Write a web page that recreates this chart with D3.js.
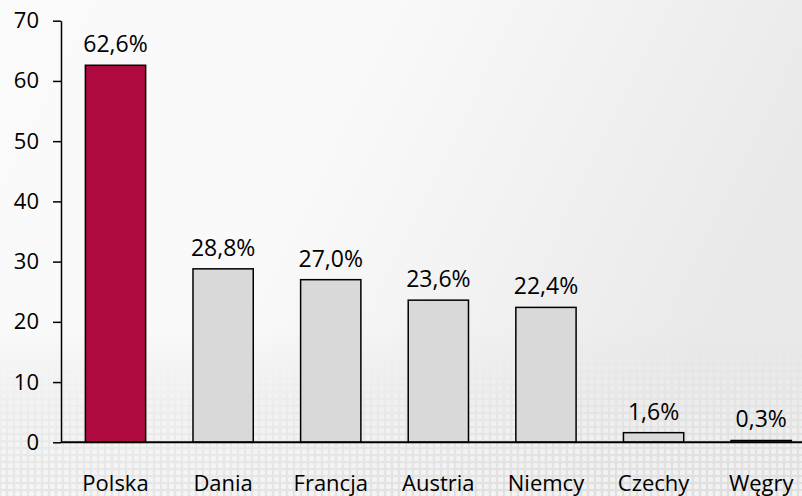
<!DOCTYPE html>
<html><head><meta charset="utf-8">
<script src="https://cdn.jsdelivr.net/npm/d3@7"></script>
<style>
html,body{margin:0;padding:0;background:#fff;}
svg{display:block;}
text{font-family:"Open Sans",sans-serif;fill:#000;}
</style></head>
<body>
<svg id="chart" width="802" height="496"></svg>
<script>
const categories = ["Polska","Dania","Francja","Austria","Niemcy","Czechy","Węgry"];
const values = [62.6, 28.8, 27.0, 23.6, 22.4, 1.6, 0.3];
const valueLabels = ["62,6%","28,8%","27,0%","23,6%","22,4%","1,6%","0,3%"];
const yTicks = [0,10,20,30,40,50,60,70];
const highlight = "Polska";

const svg = d3.select("#chart");
const W = 802, H = 496;
const defs = svg.append("defs");

// background
const bg = defs.append("linearGradient").attr("id","bg").attr("x1","0").attr("y1","0").attr("x2","1").attr("y2","0.3");
bg.append("stop").attr("offset","0").attr("stop-color","#fafafa");
bg.append("stop").attr("offset","0.45").attr("stop-color","#f9f9f9");
bg.append("stop").attr("offset","1").attr("stop-color","#e9e9e9");
svg.append("rect").attr("width",W).attr("height",H).attr("fill","url(#bg)");

const bottomFade = defs.append("linearGradient").attr("id","bf").attr("x1","0").attr("y1","0").attr("x2","0").attr("y2","1");
bottomFade.append("stop").attr("offset","0").attr("stop-color","#dcdcdc").attr("stop-opacity","0");
bottomFade.append("stop").attr("offset","0.5").attr("stop-color","#dcdcdc").attr("stop-opacity","0.45");
bottomFade.append("stop").attr("offset","1").attr("stop-color","#d8d8d8").attr("stop-opacity","0.6");
svg.append("rect").attr("x",0).attr("y",330).attr("width",W).attr("height",H-330).attr("fill","url(#bf)");

const pat = defs.append("pattern").attr("id","dots").attr("patternUnits","userSpaceOnUse").attr("width",7).attr("height",7);
pat.append("rect").attr("x",1).attr("y",1).attr("width",5).attr("height",5).attr("rx",1.5).attr("fill","#fff");
const mGrad = defs.append("linearGradient").attr("id","mg").attr("x1","0").attr("y1","0").attr("x2","0").attr("y2","1");
mGrad.append("stop").attr("offset","0").attr("stop-color","#fff").attr("stop-opacity","0");
mGrad.append("stop").attr("offset","0.6").attr("stop-color","#fff").attr("stop-opacity","0.45");
mGrad.append("stop").attr("offset","1").attr("stop-color","#fff").attr("stop-opacity","0.6");
const mask = defs.append("mask").attr("id","dm");
mask.append("rect").attr("x",0).attr("y",340).attr("width",W).attr("height",H-340).attr("fill","url(#mg)");
svg.append("rect").attr("x",0).attr("y",340).attr("width",W).attr("height",H-340).attr("fill","url(#dots)").attr("mask","url(#dm)");

// scales
const x = d3.scaleBand().domain(categories).range([61.7, 815]).paddingInner(0.44).paddingOuter(0.22);
const y = d3.scaleLinear().domain([0,70]).range([442.3, 20.7]);

// bars
svg.append("g").selectAll("rect").data(categories).join("rect")
  .attr("x", d => x(d))
  .attr("y", (d,i) => y(values[i]))
  .attr("width", x.bandwidth())
  .attr("height", (d,i) => y(0) - y(values[i]))
  .attr("fill", d => d === highlight ? "#AE0A3F" : "#D9D9D9")
  .attr("stroke", "#000")
  .attr("stroke-width", 1.5);

// value labels
svg.append("g").selectAll("text").data(categories).join("text")
  .attr("x", d => x(d) + x.bandwidth()/2)
  .attr("y", (d,i) => y(values[i]) - 13)
  .attr("text-anchor","middle")
  .style("font-size","23px")
  .text((d,i) => valueLabels[i]);

// y axis
const yAxis = svg.append("g").attr("transform","translate(61,0)")
  .call(d3.axisLeft(y).tickValues(yTicks).tickSize(8).tickSizeOuter(0).tickPadding(14).tickFormat(d3.format("d")));
yAxis.select(".domain").attr("stroke","#000").attr("stroke-width",1.5);
yAxis.selectAll(".tick line").attr("stroke","#000").attr("stroke-width",1.5);
yAxis.selectAll("text").style("font-size","22px").attr("fill","#000");

// x axis
const xAxis = svg.append("g").attr("transform","translate(0,442.3)")
  .call(d3.axisBottom(x).tickSize(0).tickSizeOuter(0));
xAxis.select(".domain").attr("stroke","#000").attr("stroke-width",2).attr("d","M61,0H815");
xAxis.selectAll("text").attr("dy",null).attr("y",49).style("font-size","22px").attr("fill","#000");
</script>
</body></html>
